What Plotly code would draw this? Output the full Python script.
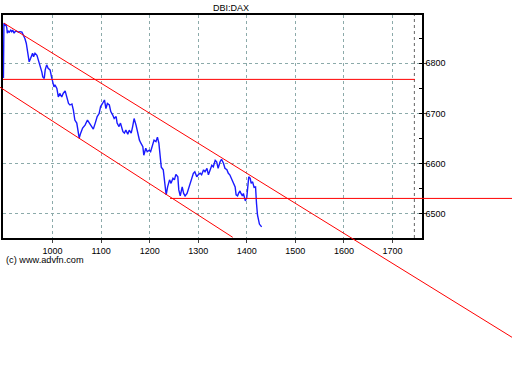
import plotly.graph_objects as go

# ---- data ----
bar_index = [
    899, 900, 902, 904, 906, 907, 909, 911, 914, 916,
    918, 921, 923, 926, 930, 933, 937, 940, 943, 946,
    948, 950, 952, 955, 957, 959, 961, 964, 968, 971,
    974, 978, 980, 983, 985, 988, 991, 995, 998, 1000,
    1003, 1005, 1009, 1012, 1015, 1019, 1022, 1026, 1029, 1033,
    1036, 1040, 1043, 1046, 1050, 1053, 1055, 1058, 1062, 1067,
    1072, 1076, 1081, 1084, 1088, 1092, 1096, 1099, 1103, 1107,
    1110, 1113, 1117, 1120, 1124, 1127, 1131, 1133, 1137, 1140,
    1145, 1148, 1151, 1155, 1158, 1162, 1165, 1168, 1172, 1175,
    1179, 1182, 1186, 1188, 1192, 1195, 1199, 1202, 1206, 1209,
    1213, 1216, 1219, 1221, 1224, 1228, 1232, 1234, 1237, 1241,
    1244, 1248, 1251, 1254, 1258, 1260, 1263, 1267, 1270, 1273,
    1277, 1280, 1284, 1287, 1290, 1293, 1297, 1300, 1304, 1307,
    1311, 1314, 1318, 1321, 1324, 1328, 1331, 1335, 1338, 1341,
    1345, 1348, 1352, 1355, 1359, 1362, 1365, 1369, 1372, 1376,
    1378, 1381, 1383, 1386, 1388, 1391, 1393, 1395, 1397, 1400,
    1402, 1404, 1407, 1409, 1412, 1415, 1418, 1419, 1420, 1422,
    1424, 1426, 1429, 1431,
]
price = [
    6771, 6880, 6876, 6878, 6870, 6860, 6864, 6862, 6866, 6863,
    6866, 6860, 6863, 6864, 6862, 6863, 6862, 6856, 6850, 6840,
    6830, 6816, 6803, 6810, 6816, 6820, 6813, 6820, 6816, 6807,
    6797, 6783, 6773, 6770, 6787, 6797, 6790, 6787, 6773, 6763,
    6753, 6757, 6750, 6733, 6740, 6733, 6740, 6745, 6733, 6720,
    6717, 6719, 6707, 6687, 6681, 6667, 6651, 6661, 6671, 6677,
    6687, 6681, 6674, 6669, 6681, 6694, 6700, 6714, 6720, 6727,
    6710, 6720, 6717, 6704, 6697, 6690, 6694, 6681, 6674, 6681,
    6664, 6661, 6667, 6659, 6667, 6661, 6674, 6690, 6677, 6661,
    6647, 6641, 6634, 6617, 6631, 6624, 6627, 6624, 6637, 6647,
    6644, 6653, 6641, 6614, 6593, 6588, 6561, 6538, 6554, 6568,
    6561, 6571, 6568, 6579, 6574, 6548, 6536, 6554, 6541, 6536,
    6541, 6551, 6564, 6574, 6581, 6584, 6574, 6578, 6581, 6578,
    6588, 6584, 6591, 6578, 6588, 6597, 6594, 6607, 6604, 6591,
    6604, 6609, 6601, 6591, 6588, 6581, 6578, 6568, 6561, 6554,
    6538, 6536, 6541, 6546, 6541, 6536, 6541, 6534, 6526, 6533,
    6558, 6574, 6571, 6561, 6564, 6553, 6554, 6528, 6521, 6498,
    6488, 6480, 6476, 6475,
]

# trend channel and levels
upper_x = [900, 1946]
upper_y = [6880, 6254.5]
lower_x = [891.9, 1371]
lower_y = [6752.4, 6453.6]
resist_x = [898, 1746]
resist_y = [6768, 6768]
support_x = [1242, 1946]
support_y = [6531, 6531]
today_x = 1745

x_ticks = [1000, 1100, 1200, 1300, 1400, 1500, 1600, 1700]
title_text = "DBI:DAX"
credit_text = "(c) www.advfn.com"

# ---- geometry (pixels in the 512x384 page) ----
W, H = 512, 384
L, R, T, B = 3, 422, 14.5, 238
x_range = [898.1, 1760.7]
y_range = [6452.2, 6897.2]


def extend(rng, p0, p1, q0, q1):
    # range of an axis spanning pixels q0..q1 given rng spans p0..p1
    k = (rng[1] - rng[0]) / (p1 - p0)
    return [rng[0] + (q0 - p0) * k, rng[0] + (q1 - p0) * k]


x2_range = extend(x_range, L, R, 0, W)
y2_range = extend(y_range, H - B, H - T, 0, H)

FONT = "Liberation Sans, Arial, sans-serif"
GRID = "rgb(140,170,170)"

fig = go.Figure()
fig.add_trace(go.Scatter(x=bar_index, y=price, mode="lines",
                         line=dict(color="#1a1aff", width=1.4),
                         xaxis="x", yaxis="y", hoverinfo="skip"))
fig.add_trace(go.Scatter(x=[today_x, today_x], y=y_range, mode="lines",
                         line=dict(color="rgb(100,100,100)", width=1, dash="dot"),
                         xaxis="x", yaxis="y", hoverinfo="skip"))
for xs, ys in [(upper_x, upper_y), (lower_x, lower_y),
               (resist_x, resist_y), (support_x, support_y)]:
    fig.add_trace(go.Scatter(x=xs, y=ys, mode="lines",
                             line=dict(color="#ff0000", width=1),
                             xaxis="x2", yaxis="y2", hoverinfo="skip"))

fig.update_layout(
    width=W, height=H,
    margin=dict(l=0, r=0, t=0, b=0),
    paper_bgcolor="white", plot_bgcolor="rgba(0,0,0,0)",
    showlegend=False,
    font=dict(family=FONT, size=9, color="black"),
    xaxis=dict(domain=[L / W, R / W], range=x_range, anchor="y",
               tickvals=x_ticks, ticks="outside", ticklen=3,
               showline=True, mirror=True, linecolor="black", linewidth=1.5,
               showgrid=True, gridcolor=GRID, griddash="dot", gridwidth=1,
               zeroline=False, tickfont=dict(size=9)),
    yaxis=dict(domain=[1 - B / H, 1 - T / H], range=y_range, anchor="x",
               side="right", tick0=6500, dtick=100,
               ticks="outside", ticklen=3, ticklabelstandoff=-3,
               minor=dict(dtick=50, tick0=6450, ticks="inside", ticklen=3,
                          showgrid=False, tickcolor="black"),
               showline=True, mirror=True, linecolor="black", linewidth=1.5,
               showgrid=True, gridcolor=GRID, griddash="dot", gridwidth=1,
               zeroline=False, tickfont=dict(size=9)),
    xaxis2=dict(domain=[0, 1], range=x2_range, anchor="y2", visible=False,
                fixedrange=True),
    yaxis2=dict(domain=[0, 1], range=y2_range, anchor="x2", visible=False,
                fixedrange=True),
    annotations=[
        dict(text=title_text, x=230.5 / W, y=1 - 8 / H, xref="paper",
             yref="paper", showarrow=False, xanchor="center", yanchor="middle",
             font=dict(size=9)),
        dict(text=credit_text, x=5 / W, y=1 - 259.5 / H, xref="paper",
             yref="paper", showarrow=False, xanchor="left", yanchor="middle",
             borderpad=0, font=dict(size=9.2)),
    ],
)

fig.write_html("out.html",
               config={"displayModeBar": False},
               post_script="document.body.style.margin='0';"
                           "document.body.style.padding='0';")
